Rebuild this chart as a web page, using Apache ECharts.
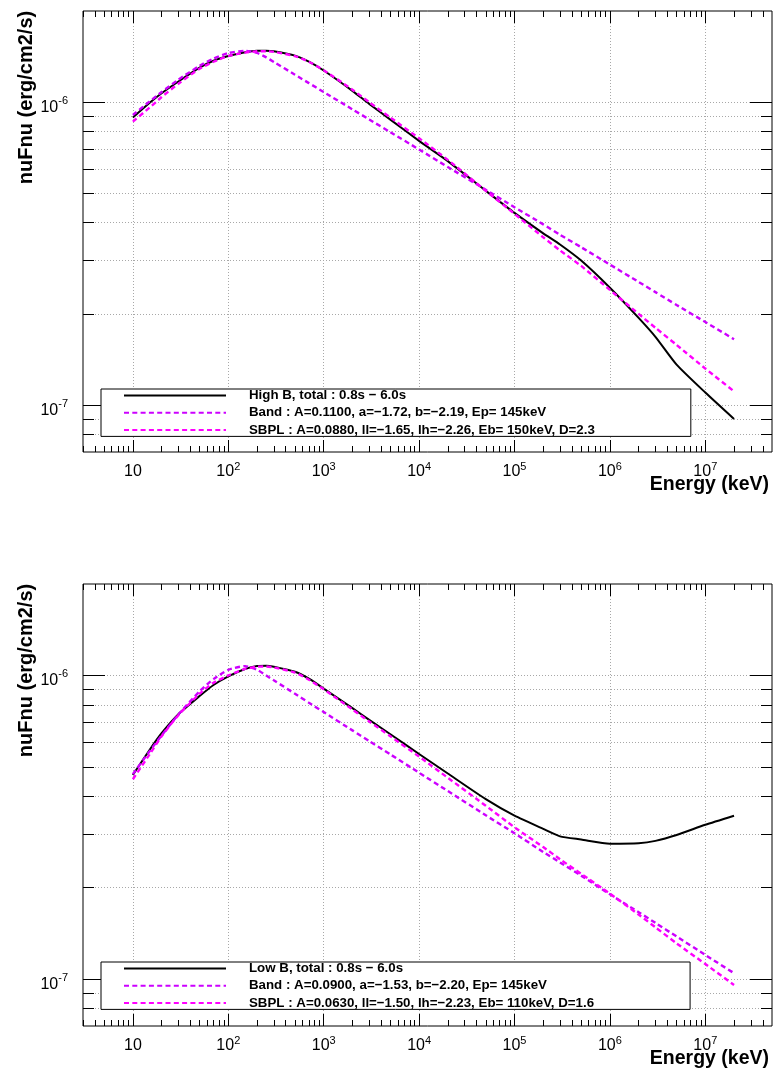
<!DOCTYPE html>
<html><head><meta charset="utf-8">
<script src="https://cdn.jsdelivr.net/npm/echarts@6/dist/echarts.min.js"></script>
<style>html,body{margin:0;padding:0;background:#fff}#c{width:774px;height:1070px}</style>
</head><body><div id="c"></div>
<script>
// Energy grid (keV)
const energy = [10,15,20,30,50,70,100,150,200,250,300,500,700,1e3,2e3,3e3,5e3,1e4,2e4,5e4,1e5,2e5,3e5,5e5,1e6,2e6,3e6,5e6,1e7,2e7];

// Top panel (High B)
const highTotal = [8.9e-7,9.95e-7,1.07e-6,1.17e-6,1.30e-6,1.37e-6,1.42e-6,1.462e-6,1.478e-6,1.479e-6,1.472e-6,1.425e-6,1.36e-6,1.272e-6,1.09e-6,9.87e-7,8.76e-7,7.45e-7,6.39e-7,5.10e-7,4.31e-7,3.69e-7,3.39e-7,3.0e-7,2.44e-7,1.94e-7,1.68e-7,1.36e-7,1.10e-7,9.0e-8];
const highBand = [9.07e-7,1.006e-6,1.080e-6,1.187e-6,1.318e-6,1.393e-6,1.453e-6,1.478e-6,1.454e-6,1.406e-6,1.358e-6,1.232e-6,1.156e-6,1.080e-6,9.47e-7,8.77e-7,7.96e-7,6.98e-7,6.11e-7,5.14e-7,4.50e-7,3.95e-7,3.65e-7,3.32e-7,2.91e-7,2.55e-7,2.36e-7,2.14e-7,1.88e-7,1.65e-7];
const highSbpl = [8.63e-7,9.6e-7,1.04e-6,1.15e-6,1.29e-6,1.36e-6,1.42e-6,1.458e-6,1.472e-6,1.473e-6,1.466e-6,1.42e-6,1.36e-6,1.275e-6,1.10e-6,1.0e-6,8.9e-7,7.6e-7,6.45e-7,5.1e-7,4.28e-7,3.58e-7,3.24e-7,2.88e-7,2.40e-7,2.0e-7,1.8e-7,1.58e-7,1.32e-7,1.11e-7];

// Bottom panel (Low B)
const lowTotal = [4.7e-7,5.69e-7,6.45e-7,7.45e-7,8.55e-7,9.3e-7,9.93e-7,1.05e-6,1.074e-6,1.076e-6,1.068e-6,1.028e-6,9.75e-7,9.05e-7,7.8e-7,7.14e-7,6.40e-7,5.51e-7,4.75e-7,3.91e-7,3.45e-7,3.12e-7,2.95e-7,2.88e-7,2.79e-7,2.80e-7,2.85e-7,2.98e-7,3.22e-7,3.45e-7];
const lowBand = [4.73e-7,5.63e-7,6.34e-7,7.43e-7,8.86e-7,9.72e-7,1.043e-6,1.073e-6,1.044e-6,9.99e-7,9.63e-7,8.70e-7,8.13e-7,7.57e-7,6.59e-7,6.08e-7,5.49e-7,4.78e-7,4.16e-7,3.46e-7,3.02e-7,2.62e-7,2.42e-7,2.19e-7,1.90e-7,1.66e-7,1.53e-7,1.38e-7,1.20e-7,1.045e-7];
const lowSbpl = [4.55e-7,5.5e-7,6.3e-7,7.4e-7,8.7e-7,9.45e-7,1.0e-6,1.05e-6,1.068e-6,1.07e-6,1.062e-6,1.022e-6,9.68e-7,9.0e-7,7.72e-7,7.05e-7,6.3e-7,5.4e-7,4.6e-7,3.72e-7,3.16e-7,2.72e-7,2.48e-7,2.22e-7,1.91e-7,1.63e-7,1.48e-7,1.31e-7,1.12e-7,9.55e-8];

const highNames = ['High B, total : 0.8s \u2212 6.0s', 'Band : A=0.1100, a=\u22121.72, b=\u22122.19, Ep= 145keV', 'SBPL : A=0.0880, ll=\u22121.65, lh=\u22122.26, Eb= 150keV, D=2.3'];
const lowNames = ['Low B, total : 0.8s \u2212 6.0s', 'Band : A=0.0900, a=\u22121.53, b=\u22122.20, Ep= 145keV', 'SBPL : A=0.0630, ll=\u22121.50, lh=\u22122.23, Eb= 110keV, D=1.6'];

// Axis ticks
const xMajorTicks = [10,1e2,1e3,1e4,1e5,1e6,1e7];
const xMinorTicks = [3,4,5,6,7,8,9,
  20,30,40,50,60,70,80,90,
  200,300,400,500,600,700,800,900,
  2e3,3e3,4e3,5e3,6e3,7e3,8e3,9e3,
  2e4,3e4,4e4,5e4,6e4,7e4,8e4,9e4,
  2e5,3e5,4e5,5e5,6e5,7e5,8e5,9e5,
  2e6,3e6,4e6,5e6,6e6,7e6,8e6,9e6,
  2e7,3e7,4e7];
const yMajorTicks = [1e-7,1e-6];
const yMinorTicks = [8e-8,9e-8,2e-7,3e-7,4e-7,5e-7,6e-7,7e-7,8e-7,9e-7];
const X_MIN = 3, X_MAX = 5e7, Y_MIN = 7e-8, Y_MAX = 2e-6;

const FONT = '"Liberation Sans", Arial, Helvetica, sans-serif';
const COL_TOTAL = '#000000', COL_BAND = '#cc00ff', COL_SBPL = '#ff00ff';
const gridLineStyle = {color:'#a8a8a8', width:1, type:[1,2]};
const tickLine = {color:'#000', width:1};

function pow10Label(v){
  const n = Math.round(Math.log10(v));
  if (n === 1) return '{b|10}';
  return '{b|10}{s|' + (n < 0 ? '-' : '') + Math.abs(n) + '}';
}

function makeXAxes(g){
  const base = {type:'log', logBase:10, min:X_MIN, max:X_MAX, gridIndex:g,
    axisLine:{show:false, onZero:false}, axisLabel:{show:false}, splitLine:{show:false}};
  return [
    Object.assign({}, base, {position:'bottom',
      axisLabel:{show:true, customValues:xMajorTicks, margin:9, formatter:pow10Label,
        rich:{b:{fontSize:16, fontFamily:FONT, color:'#000', padding:[3,0,0,0]},
              s:{fontSize:11, fontFamily:FONT, color:'#000', padding:[0,0,8,0]}}},
      axisTick:{show:true, inside:true, length:12, customValues:xMajorTicks, lineStyle:tickLine},
      splitLine:{show:true, lineStyle:gridLineStyle}}),
    Object.assign({}, base, {position:'bottom',
      axisTick:{show:true, inside:true, length:6, customValues:xMinorTicks, lineStyle:tickLine}}),
    Object.assign({}, base, {position:'top',
      axisTick:{show:true, inside:true, length:12, customValues:xMajorTicks, lineStyle:tickLine}}),
    Object.assign({}, base, {position:'top',
      axisTick:{show:true, inside:true, length:6, customValues:xMinorTicks, lineStyle:tickLine}})
  ];
}
function makeYAxes(g){
  const base = {type:'log', logBase:10, min:Y_MIN, max:Y_MAX, gridIndex:g,
    axisLine:{show:false, onZero:false}, axisLabel:{show:false}, splitLine:{show:false}};
  return [
    Object.assign({}, base, {position:'left',
      axisLabel:{show:true, customValues:yMajorTicks, margin:15, formatter:pow10Label,
        rich:{b:{fontSize:16, fontFamily:FONT, color:'#000', padding:[11,0,0,0]},
              s:{fontSize:11, fontFamily:FONT, color:'#000', padding:[7,0,9,0]}}},
      axisTick:{show:true, inside:true, length:22, customValues:yMajorTicks, lineStyle:tickLine},
      splitLine:{show:true, lineStyle:gridLineStyle}}),
    Object.assign({}, base, {position:'left',
      axisTick:{show:true, inside:true, length:11, customValues:yMinorTicks, lineStyle:tickLine},
      splitLine:{show:true, lineStyle:gridLineStyle}}),
    Object.assign({}, base, {position:'right',
      axisTick:{show:true, inside:true, length:22, customValues:yMajorTicks, lineStyle:tickLine}}),
    Object.assign({}, base, {position:'right',
      axisTick:{show:true, inside:true, length:11, customValues:yMinorTicks, lineStyle:tickLine}})
  ];
}

function pairs(ys){ return energy.map((e,i)=>[e, ys[i]]); }
function mkSeries(name, ys, color, dashed, axisIdx){
  return {type:'line', name:name, data:pairs(ys), xAxisIndex:axisIdx, yAxisIndex:axisIdx,
    symbol:'none', showSymbol:false, smooth:0.2, silent:true, z: dashed ? 4 : 3,
    lineStyle:{color:color, width: dashed ? 2.4 : 2, type: dashed ? [5,3.3] : 'solid'},
    itemStyle:{color:color}};
}

function mkLegend(names, top){
  return {show:true, data:names, orient:'vertical', left:101, top:top,
    itemWidth:102, itemHeight:15, itemGap:4.2, selectedMode:false,
    padding:[0,96,0,22], borderColor:'#000', borderWidth:1, backgroundColor:'#fff',
    itemStyle:{opacity:0},
    textStyle:{fontFamily:FONT, fontSize:13.3, fontWeight:'bold', color:'#000', padding:[0,0,0,18]}};
}

const chart = echarts.init(document.getElementById('c'), null, {renderer:'canvas'});
chart.setOption({
  animation:false,
  backgroundColor:'#fff',
  grid:[
    {left:83, top:11, width:689, height:441, show:true, borderColor:'#000', borderWidth:1, backgroundColor:'transparent'},
    {left:83, top:584, width:689, height:442, show:true, borderColor:'#000', borderWidth:1, backgroundColor:'transparent'}
  ],
  xAxis: makeXAxes(0).concat(makeXAxes(1)),
  yAxis: makeYAxes(0).concat(makeYAxes(1)),
  legend:[mkLegend(highNames, 389), mkLegend(lowNames, 962)],
  series:[
    mkSeries(highNames[0], highTotal, COL_TOTAL, false, 0),
    mkSeries(highNames[1], highBand, COL_BAND, true, 0),
    mkSeries(highNames[2], highSbpl, COL_SBPL, true, 0),
    mkSeries(lowNames[0], lowTotal, COL_TOTAL, false, 4),
    mkSeries(lowNames[1], lowBand, COL_BAND, true, 4),
    mkSeries(lowNames[2], lowSbpl, COL_SBPL, true, 4)
  ],
  graphic:[
    {type:'text', x:26, y:97.5, rotation:Math.PI/2, style:{text:'nuFnu (erg/cm2/s)', fontFamily:FONT, fontSize:20, fontWeight:'bold', fill:'#000', align:'center', verticalAlign:'middle'}},
    {type:'text', x:26, y:670.5, rotation:Math.PI/2, style:{text:'nuFnu (erg/cm2/s)', fontFamily:FONT, fontSize:20, fontWeight:'bold', fill:'#000', align:'center', verticalAlign:'middle'}},
    {type:'text', x:769, y:485, style:{text:'Energy (keV)', fontFamily:FONT, fontSize:19.5, fontWeight:'bold', fill:'#000', align:'right', verticalAlign:'middle'}},
    {type:'text', x:769, y:1059, style:{text:'Energy (keV)', fontFamily:FONT, fontSize:19.5, fontWeight:'bold', fill:'#000', align:'right', verticalAlign:'middle'}}
  ]
});
</script>
</body></html>
